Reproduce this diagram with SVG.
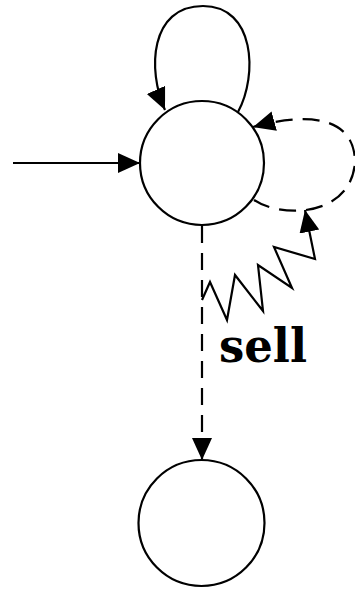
<svg xmlns="http://www.w3.org/2000/svg" width="355" height="589" viewBox="0 0 355 589">
<style>
.node{fill:#fff;stroke:#000;stroke-width:2.2}
.edge{fill:none;stroke:#000;stroke-width:2.2}
.dash{stroke-dasharray:17 10}
.lbl{font-family:"DejaVu Serif",serif;font-weight:bold;font-size:47px;fill:#000}
</style>
<defs>
<marker id="ah" markerUnits="userSpaceOnUse" markerWidth="23" markerHeight="21" refX="22" refY="10" orient="auto" viewBox="0 0 23 21">
<path d="M0,0 L22,10 L0,20 z" fill="#000"/>
</marker>
</defs>
<g id="connectors">
<path id="init" class="edge" d="M13,163 L140,163" marker-end="url(#ah)"/>
<path id="loop-top" class="edge" d="M238,112 C258,75 255,6 203,6 C150,6 147,70 165,110" marker-end="url(#ah)"/>
<path id="loop-right" class="edge dash" d="M254,200 C280,218 350,218 355,163 C355,112 300,114 253,127" marker-end="url(#ah)"/>
<path id="sell-edge" class="edge dash" d="M202,226 L202,460" marker-end="url(#ah)"/>
<path id="zigzag" class="edge" d="M202,300 L210,282 L227,320 L235,275 L263,311 L258,265 L292,288 L274,247 L315,259 L305,210" marker-end="url(#ah)"/>
</g>
<g id="n1"><circle class="node" cx="202" cy="163" r="62"/></g>
<g id="n2"><circle class="node" cx="201.5" cy="523" r="63"/></g>
<g id="label-sell"><text class="lbl" x="219" y="362" textLength="88" lengthAdjust="spacingAndGlyphs">sell</text></g>
</svg>
